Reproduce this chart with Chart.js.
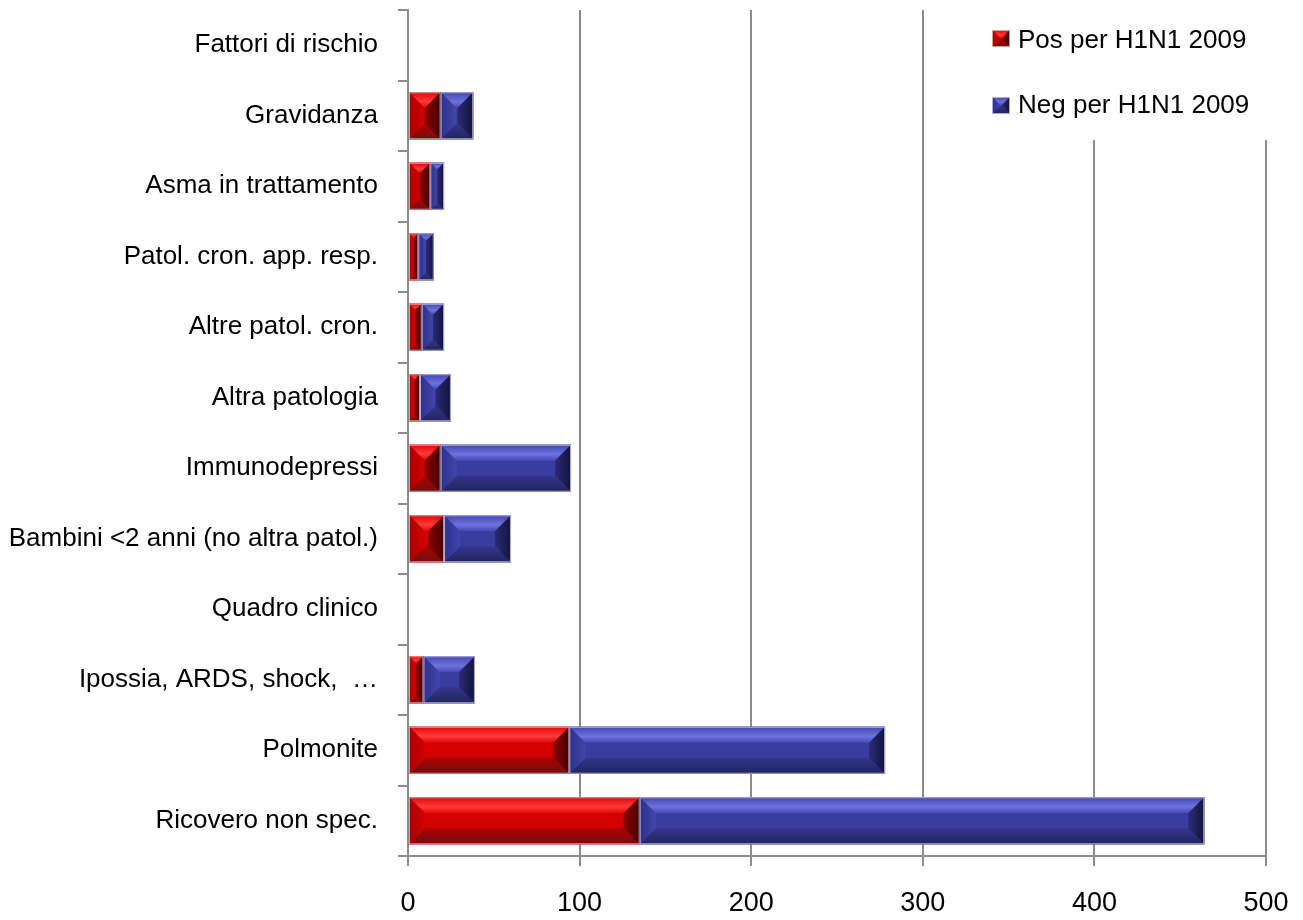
<!DOCTYPE html>
<html>
<head>
<meta charset="utf-8">
<script src="https://cdn.jsdelivr.net/npm/chart.js@4/dist/chart.umd.min.js"></script>
<style>
  html, body { margin: 0; padding: 0; background: #ffffff; }
  #wrap { width: 1303px; height: 920px; }
</style>
</head>
<body>
<div id="wrap"><canvas id="c" width="1303" height="920"></canvas></div>
<script>
// Categories, top to bottom (group headers have no bars)
const categories = [
  'Fattori di rischio',
  'Gravidanza',
  'Asma in trattamento',
  'Patol. cron. app. resp.',
  'Altre patol. cron.',
  'Altra patologia',
  'Immunodepressi',
  'Bambini <2 anni (no altra patol.)',
  'Quadro clinico',
  'Ipossia, ARDS, shock,  \u2026',
  'Polmonite',
  'Ricovero non spec.'
];
const seriesNames = ['Pos per H1N1 2009', 'Neg per H1N1 2009'];
const positiveCounts = [null, 19, 13, 6, 8, 7, 19, 21, null, 9, 94, 135];
const negativeCounts = [null, 19, 8, 9, 13, 18, 76, 39, null, 30, 184, 329];
const axisMin = 0;
const axisMax = 500;
const axisStep = 100;

const FONT = "'Liberation Sans', Arial, sans-serif";
const GRID = '#8c8c8c';

// Bevelled-face palettes
const palettes = [
  {
    face: '#d20000',
    top: ['#e00808', '#ff3a3a', '#e20606'],
    bottom: ['#b00000', '#701010'],
    left: ['#a80000', '#d40000'],
    right: ['#8c0000', '#420000'],
    edge: 'rgba(215,175,175,0.9)'
  },
  {
    face: '#3a3ca2',
    top: ['#4447ae', '#6d72dc', '#4649b4'],
    bottom: ['#33358e', '#22245c'],
    left: ['#2e3088', '#4245ac'],
    right: ['#2a2c78', '#121338'],
    edge: 'rgba(190,190,225,0.9)'
  }
];

function poly(ctx, pts, fill) {
  ctx.beginPath();
  ctx.moveTo(pts[0][0], pts[0][1]);
  for (let i = 1; i < pts.length; i++) ctx.lineTo(pts[i][0], pts[i][1]);
  ctx.closePath();
  ctx.fillStyle = fill;
  ctx.fill();
}

function drawBevel(ctx, L, T, R, B, p, maxB) {
  const w = R - L, h = B - T;
  if (w <= 0 || h <= 0) return;
  const b = Math.min(maxB, w / 2, h / 2);
  ctx.save();
  ctx.fillStyle = p.face;
  ctx.fillRect(L, T, w, h);

  let g = ctx.createLinearGradient(0, T, 0, T + b);
  g.addColorStop(0, p.top[0]); g.addColorStop(0.6, p.top[1]); g.addColorStop(1, p.top[2]);
  poly(ctx, [[L, T], [R, T], [R - b, T + b], [L + b, T + b]], g);

  g = ctx.createLinearGradient(0, B - b, 0, B);
  g.addColorStop(0, p.bottom[0]); g.addColorStop(1, p.bottom[1]);
  poly(ctx, [[L, B], [R, B], [R - b, B - b], [L + b, B - b]], g);

  g = ctx.createLinearGradient(L, 0, L + b, 0);
  g.addColorStop(0, p.left[0]); g.addColorStop(1, p.left[1]);
  poly(ctx, [[L, T], [L + b, T + b], [L + b, B - b], [L, B]], g);

  g = ctx.createLinearGradient(R - b, 0, R, 0);
  g.addColorStop(0, p.right[0]); g.addColorStop(1, p.right[1]);
  poly(ctx, [[R, T], [R - b, T + b], [R - b, B - b], [R, B]], g);

  ctx.strokeStyle = p.edge;
  ctx.lineWidth = 1;
  ctx.strokeRect(L + 0.5, T + 0.5, w - 1, h - 1);
  ctx.restore();
}

// Paint each bar segment as a bevelled block
const bevelBars = {
  id: 'bevelBars',
  afterDatasetsDraw(chart) {
    const ctx = chart.ctx;
    chart.data.datasets.forEach((ds, i) => {
      const meta = chart.getDatasetMeta(i);
      meta.data.forEach((el, j) => {
        if (ds.data[j] == null) return;
        const { x, y, base, height } = el.getProps(['x', 'y', 'base', 'height'], true);
        if (!isFinite(x) || !isFinite(base)) return;
        const L = Math.min(x, base), R = Math.max(x, base);
        drawBevel(ctx, L, y - height / 2, R, y + height / 2, palettes[i], 16);
      });
    });
  }
};

// Legend block in the upper right corner of the plot
const cornerLegend = {
  id: 'cornerLegend',
  afterDraw(chart) {
    const ctx = chart.ctx;
    ctx.save();
    ctx.fillStyle = '#ffffff';
    ctx.fillRect(962, 0, 330, 140);
    const rows = [{ sy: 30, base: 48 }, { sy: 97, base: 113 }];
    chart.data.datasets.forEach((ds, i) => {
      const r = rows[i];
      drawBevel(ctx, 992, r.sy, 1010, r.sy + 17, palettes[i], 9);
      ctx.fillStyle = '#000000';
      ctx.font = '26px ' + FONT;
      ctx.textBaseline = 'alphabetic';
      ctx.textAlign = 'left';
      ctx.fillText(ds.label, 1018, r.base);
    });
    ctx.restore();
  }
};

function noScalePadding(scale) {
  scale.paddingTop = 0;
  scale.paddingBottom = 0;
  scale.paddingLeft = 0;
  scale.paddingRight = 0;
}

new Chart(document.getElementById('c'), {
  type: 'bar',
  data: {
    labels: categories,
    datasets: [
      { label: seriesNames[0], data: positiveCounts, backgroundColor: palettes[0].face },
      { label: seriesNames[1], data: negativeCounts, backgroundColor: palettes[1].face }
    ]
  },
  options: {
    indexAxis: 'y',
    responsive: false,
    animation: false,
    layout: { padding: { top: 10, right: 37, left: 0, bottom: 0 } },
    datasets: { bar: { categoryPercentage: 1, barPercentage: 0.667 } },
    plugins: { legend: { display: false }, tooltip: { enabled: false } },
    scales: {
      x: {
        stacked: true,
        min: axisMin,
        max: axisMax,
        ticks: { stepSize: axisStep, color: '#000', padding: 21, font: { family: FONT, size: 27 } },
        grid: { color: GRID, lineWidth: 2, tickLength: 10 },
        border: { color: GRID, width: 2 },
        afterFit(scale) { scale.height = 64; noScalePadding(scale); }
      },
      y: {
        stacked: true,
        ticks: { color: '#000', padding: 20, font: { family: FONT, size: 26 } },
        grid: { color: GRID, lineWidth: 2, tickLength: 10, drawOnChartArea: false, offset: true },
        border: { color: GRID, width: 2 },
        afterFit(scale) { scale.width = 408; noScalePadding(scale); }
      }
    }
  },
  plugins: [bevelBars, cornerLegend]
});
</script>
</body>
</html>
